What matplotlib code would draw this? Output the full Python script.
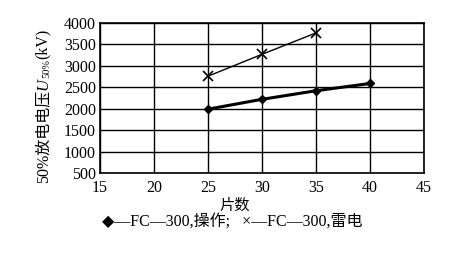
import matplotlib
matplotlib.use("Agg")
import matplotlib.pyplot as plt

# data
pieces = [25, 30, 35, 40]
u50_switching = [1990, 2220, 2420, 2590]
pieces_lightning = [25, 30, 35]
u50_lightning = [2760, 3270, 3770]

x_ticks = [15, 20, 25, 30, 35, 40, 45]
y_ticks = [500, 1000, 1500, 2000, 2500, 3000, 3500, 4000]

fonts = ["Liberation Serif", "DejaVu Sans", "Noto Sans CJK SC"]
plt.rcParams["font.family"] = fonts

fig = plt.figure(figsize=(4.6, 2.59), dpi=100)
ax = fig.add_axes([0.2174, 0.332, 0.7043, 0.579])

ax.plot(pieces, u50_switching, color="black", lw=2.2, marker="D", ms=4.5, zorder=3)
ax.plot(pieces_lightning, u50_lightning, color="black", lw=1.0, marker="x", ms=7,
        mew=1.2, zorder=3)

ax.set_xlim(15, 45)
ax.set_ylim(500, 4000)
ax.set_xticks(x_ticks)
ax.set_yticks(y_ticks)
ax.grid(True, color="black", lw=1.0)
ax.tick_params(length=0, labelsize=11.5)
ax.tick_params(axis="x", pad=5)
ax.tick_params(axis="y", pad=3)
for s in ax.spines.values():
    s.set_linewidth(1.2)

ax.set_xlabel("片数", fontsize=11)
ax.xaxis.set_label_coords(0.417, -0.17)

# y label built from pieces: 50%放电电压 U_50% (kV)
renderer = fig.canvas.get_renderer()
H = fig.bbox.height
W = fig.bbox.width
x0 = 43 / W
y = 183
parts = [("50%放电电压", 11.5, "normal", 0), ("U", 12, "italic", 0),
         ("50%", 7.5, "normal", 4), ("(kV)", 11.5, "normal", 0)]
for txt, size, style, dx in parts:
    t = fig.text(x0 + dx / W, y / H, txt, rotation=90, ha="center", va="bottom",
                 fontsize=size, style=style)
    bb = t.get_window_extent(renderer)
    y = bb.y1
    # move back down from top-origin coords
t_list = fig.texts
# reposition so label is anchored from the bottom (display y origin is bottom)
y = 259 - 183
for t in t_list:
    t.set_y(y / H)
    y = t.get_window_extent(renderer).y1

fig.text(0.505, 0.143, "◆—FC—300,操作;   ×—FC—300,雷电", ha="center", va="center",
         fontsize=11.5)

fig.savefig("out.png", dpi=100)
